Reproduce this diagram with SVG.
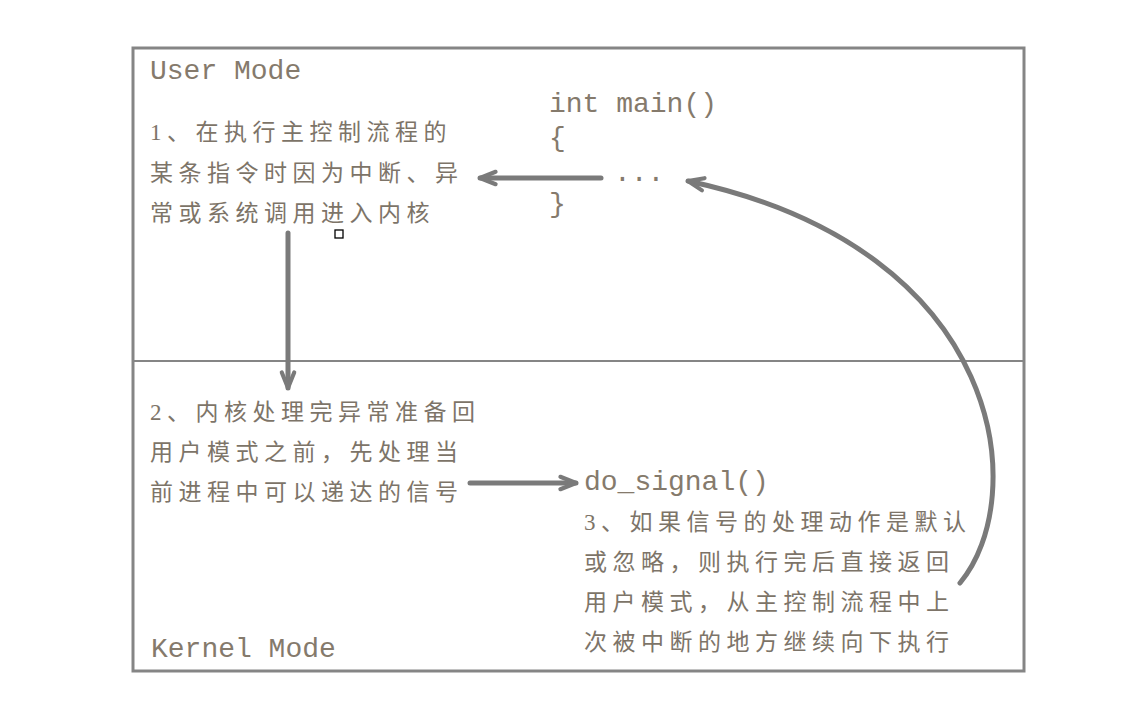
<svg xmlns="http://www.w3.org/2000/svg" width="1143" height="724" viewBox="0 0 1143 724">
<style>
.mono{font-family:"Liberation Mono","DejaVu Sans Mono",monospace;font-size:28px;fill:#857a6c}
.cn{font-family:"Liberation Serif","Noto Sans CJK SC",serif;font-size:23px;letter-spacing:5.5px;fill:#7d7468}
.conn{fill:none;stroke:#7a7a7a;stroke-width:5;stroke-linecap:round}
</style>
<defs>
<marker id="ah" markerWidth="10" markerHeight="10" viewBox="-12 -8 16 16" refX="0" refY="0" orient="auto" markerUnits="strokeWidth">
<path d="M-5,-2 L0,0 L-5,2" fill="none" stroke="#7a7a7a" stroke-width="1.3" stroke-linecap="round" stroke-linejoin="round"/>
</marker>
</defs>
<rect width="1143" height="724" fill="#fff"/>
<g id="frame">
<rect x="133" y="48" width="891" height="623" fill="none" stroke="#858585" stroke-width="3"/>
<line x1="133" y1="361" x2="1024" y2="361" stroke="#858585" stroke-width="2"/>
</g>
<g id="user-mode">
<text class="mono" x="150" y="79">User Mode</text>
</g>
<g id="kernel-mode">
<text class="mono" x="151" y="657">Kernel Mode</text>
</g>
<g id="step1">
<text class="cn" x="150" y="140">1、在执行主控制流程的</text>
<text class="cn" x="150" y="181">某条指令时因为中断、异</text>
<text class="cn" x="150" y="221">常或系统调用进入内核</text>
</g>
<g id="main-code">
<text class="mono" x="549" y="112">int main()</text>
<text class="mono" x="549" y="146">{</text>
<text class="mono" x="614" y="181">...</text>
<text class="mono" x="549" y="212">}</text>
</g>
<g id="step2">
<text class="cn" x="150" y="420">2、内核处理完异常准备回</text>
<text class="cn" x="150" y="460">用户模式之前，先处理当</text>
<text class="cn" x="150" y="500">前进程中可以递达的信号</text>
</g>
<g id="do-signal">
<text class="mono" x="584" y="490">do_signal()</text>
</g>
<g id="step3">
<text class="cn" x="584" y="530">3、如果信号的处理动作是默认</text>
<text class="cn" x="584" y="570">或忽略，则执行完后直接返回</text>
<text class="cn" x="584" y="610">用户模式，从主控制流程中上</text>
<text class="cn" x="584" y="650">次被中断的地方继续向下执行</text>
</g>
<g id="marker-box">
<rect x="335" y="230" width="8" height="8" fill="#fff" stroke="#000" stroke-width="1.3"/>
</g>
<g id="connectors">
<path class="conn" d="M601,178 L480,178" marker-end="url(#ah)"/>
<path class="conn" d="M288,233 L288,388" marker-end="url(#ah)"/>
<path class="conn" d="M470,483 L576,483" marker-end="url(#ah)"/>
<path class="conn" d="M960,583 C1030,500 1010,250 688,181" marker-end="url(#ah)"/>
</g>
</svg>
